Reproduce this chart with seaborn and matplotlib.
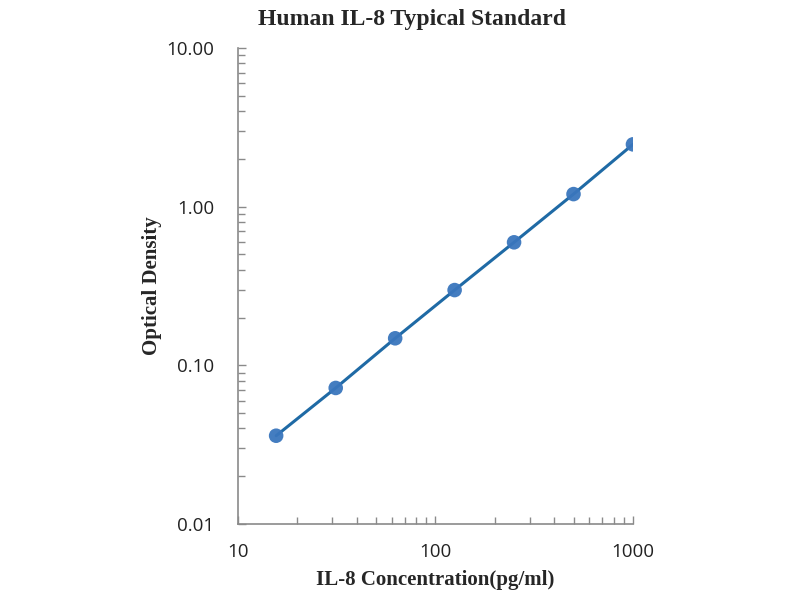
import matplotlib
matplotlib.use("Agg")
import matplotlib.pyplot as plt
import seaborn as sns
import pandas as pd
from matplotlib.ticker import FixedLocator, FixedFormatter, LogLocator, NullFormatter

# standard curve values
concentration = [15.6, 31.25, 62.5, 125, 250, 500, 1000]
optical_density = [0.036, 0.072, 0.148, 0.298, 0.596, 1.2, 2.47]

x_ticks = [10, 100, 1000]
x_labels = ["10", "100", "1000"]
y_ticks = [0.01, 0.1, 1, 10]
y_labels = ["0.01", "0.10", "1.00", "10.00"]

df = pd.DataFrame({"conc": concentration, "od": optical_density})

sns.set_style("white")
plt.rcParams['font.family'] = ['Liberation Serif', 'DejaVu Serif']

fig = plt.figure(figsize=(8, 6), dpi=100)
ax = fig.add_axes([0.2975, 0.1267, 0.4937, 0.7933])

sns.lineplot(data=df, x="conc", y="od", ax=ax, color="#1f6aa5", linewidth=2.2)
sns.scatterplot(data=df, x="conc", y="od", ax=ax, color="#3a76bd", s=110,
                edgecolor="none", alpha=0.95, zorder=3)

ax.set_xscale("log")
ax.set_yscale("log")
ax.set_xlim(10, 1000)
ax.set_ylim(0.01, 10)

ax.xaxis.set_major_locator(FixedLocator(x_ticks))
ax.xaxis.set_major_formatter(FixedFormatter(x_labels))
ax.yaxis.set_major_locator(FixedLocator(y_ticks))
ax.yaxis.set_major_formatter(FixedFormatter(y_labels))
ax.xaxis.set_minor_locator(LogLocator(base=10, subs=range(2, 10)))
ax.yaxis.set_minor_locator(LogLocator(base=10, subs=range(2, 10)))
ax.xaxis.set_minor_formatter(NullFormatter())
ax.yaxis.set_minor_formatter(NullFormatter())

# white style switches ticks off, turn them back on (inward, grey)
ax.tick_params(axis="both", which="both", bottom=True, left=True,
               direction="in", color="#8a8a8a", width=1)
ax.tick_params(axis="both", which="major", length=6)
ax.tick_params(axis="both", which="minor", length=5)
ax.tick_params(axis="y", which="major", pad=17)
ax.tick_params(axis="x", which="major", pad=14)
for lab in ax.get_xticklabels() + ax.get_yticklabels():
    lab.set_family(["Open Sans", "DejaVu Sans"])
    lab.set_fontsize(13.5)
    lab.set_color("#222222")

sns.despine(ax=ax)
for side in ["left", "bottom"]:
    ax.spines[side].set_color("#8a8a8a")
    ax.spines[side].set_linewidth(1.2)

ax.set_xlabel("IL-8 Concentration(pg/ml)", fontsize=15, fontweight="bold", labelpad=6)
ax.set_ylabel("Optical Density", fontsize=15, fontweight="bold", labelpad=3)
fig.text(0.515, 0.968, "Human IL-8 Typical Standard", ha="center", va="center",
         fontsize=17, fontweight="bold")

fig.savefig("out.png", dpi=100)
